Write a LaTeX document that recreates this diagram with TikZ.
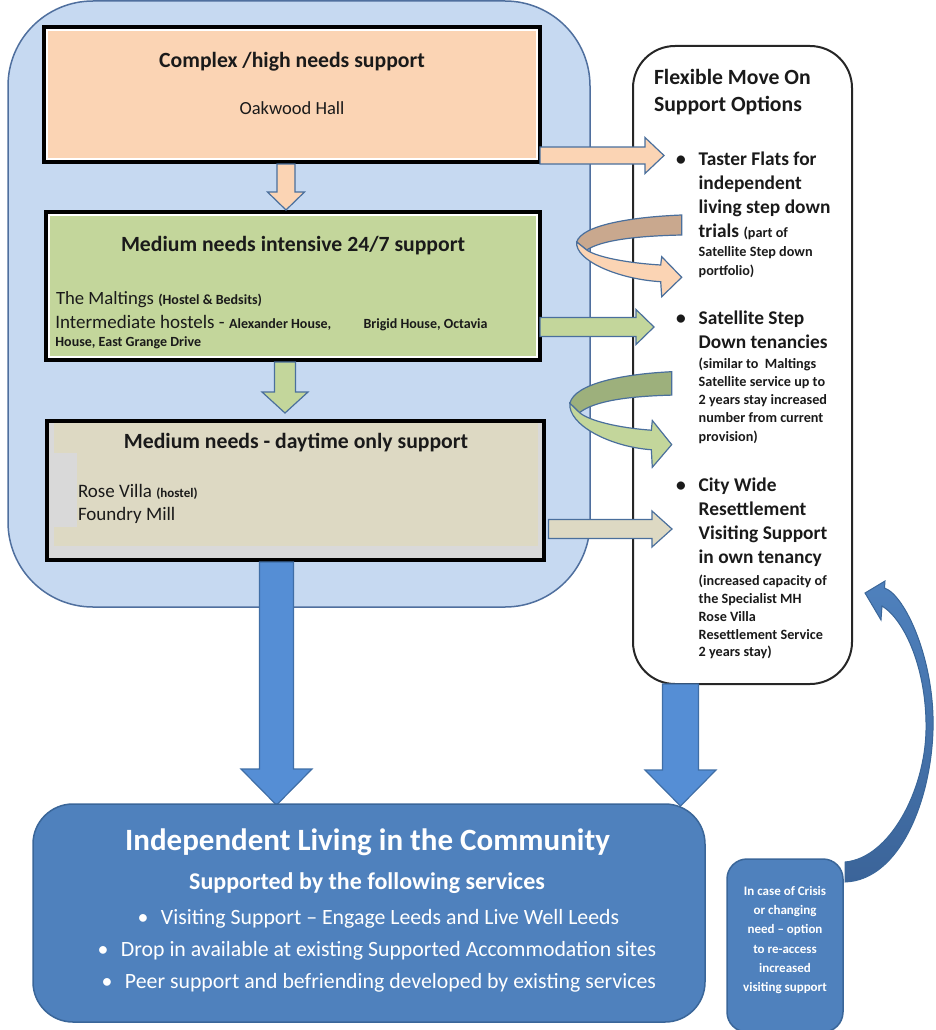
\documentclass[tikz,border=0pt]{standalone}
\usepackage{fontspec}
\setmainfont{Carlito}
\usetikzlibrary{calc}

\definecolor{ink}{HTML}{1A1A1A}
\definecolor{wrapfill}{HTML}{C6D9F1}
\definecolor{wrapedge}{HTML}{4F6F9E}
\definecolor{peach}{HTML}{FBD4B4}
\definecolor{peachback}{HTML}{C9A88E}
\definecolor{sage}{HTML}{C3D69B}
\definecolor{sageback}{HTML}{9DB07C}
\definecolor{sand}{HTML}{DDD9C3}
\definecolor{haze}{HTML}{D9D9D9}
\definecolor{steel}{HTML}{4A6F9C}
\definecolor{flow}{HTML}{558ED5}
\definecolor{flowedge}{HTML}{3F6EA6}
\definecolor{navy}{HTML}{4F81BD}
\definecolor{navyedge}{HTML}{3A6699}
\definecolor{navydark}{HTML}{3B6499}

\newcommand\setfs[2]{\fontsize{#1}{#2}\selectfont}
\newcommand\optbul{\makebox[22.7pt][l]{•}}
\newcommand\combul{\makebox[23.5pt][l]{•}}

% vertical block arrow: style, from, tip, shaft half, head half, head length, start offset
\newcommand\vblock[7]{%
  \filldraw[#1] let \p1=(#2), \p2=(#3) in
    (\x2-#4,\y1-#7) -- (\x2+#4,\y1-#7) -- (\x2+#4,\y2+#6) -- (\x2+#5,\y2+#6)
    -- (\x2,\y2) -- (\x2-#5,\y2+#6) -- (\x2-#4,\y2+#6) -- cycle;}
% horizontal block arrow: style, from, tip, shaft half, head half, head length, start offset
\newcommand\hblock[7]{%
  \filldraw[#1] let \p1=(#2), \p2=(#3) in
    (\x1+#7,\y2+#4) -- (\x2-#6,\y2+#4) -- (\x2-#6,\y2+#5) -- (\x2,\y2)
    -- (\x2-#6,\y2-#5) -- (\x2-#6,\y2-#4) -- (\x1+#7,\y2-#4) -- cycle;}
% U-turn ribbon arrow, drawn from its upper right end
\newcommand\ribbon[2]{%
  \filldraw[fill=#2, draw=steel, line width=1.2pt]
    (0,0) .. controls (-50,2) and (-100,10) .. (-105,27)
    -- (-95,35) .. controls (-80,25) and (-45,21) .. (0,20) -- cycle;
  \filldraw[fill=#1, draw=steel, line width=1.2pt]
    (-105,27) .. controls (-107,45) and (-65,64) .. (-21,66.7)
    -- (-20,81.7) -- (0,62.3) -- (-20,41.7) -- (-21,50)
    .. controls (-55,48) and (-85,42) .. (-95,35) -- cycle;}

\begin{document}
\begin{tikzpicture}[x=1pt,y=-1pt,
  panel/.style={rectangle, inner sep=0pt, outer sep=0pt},
  stage/.style={panel, draw=black, line width=4pt},
  lbl/.style={inner sep=0pt, outer sep=0pt, text=ink, anchor=base west},
  wlbl/.style={inner sep=0pt, outer sep=0pt, text=white, anchor=base},
  peacharrow/.style={fill=peach, draw=steel, line width=1.2pt},
  sagearrow/.style={fill=sage, draw=steel, line width=1.2pt},
  sandarrow/.style={fill=sand, draw=steel, line width=1.2pt},
  flowarrow/.style={fill=flow, draw=flowedge, line width=1.2pt},
  headfont/.style={font=\bfseries\setfs{21.7}{26}},
  optfont/.style={font=\bfseries\setfs{19.4}{24}},
  notefont/.style={font=\bfseries\setfs{14.2}{18}}]

\useasboundingbox (0,0) rectangle (936,1030);

% accommodation pathway container
\node[panel, fill=wrapfill, draw=wrapedge, line width=1.5pt, rounded corners=85pt,
      minimum width=582pt, minimum height=606pt] (wrap) at (299,304) {};

% move-on options panel
\node[panel, fill=white, draw=black!85, line width=2pt, rounded corners=42pt,
      minimum width=219pt, minimum height=638pt] (opts) at (742.5,365) {};

% the three support stages
\node[stage, fill=peach, minimum width=496pt, minimum height=135pt] (high) at (292,94.5) {};
\draw[white, line width=2pt] ([xshift=3pt,yshift=-3pt]high.north west) rectangle ([xshift=-3pt,yshift=3pt]high.south east);
\node[stage, fill=sage, minimum width=494.5pt, minimum height=148pt] (mid) at (292.75,286) {};
\draw[white, line width=2pt] ([xshift=3pt,yshift=-3pt]mid.north west) rectangle ([xshift=-3pt,yshift=3pt]mid.south east);
\node[stage, fill=haze, minimum width=496.5pt, minimum height=139pt] (low) at (295.25,490.5) {};
\fill[sand] (54,423) rectangle (538,546);
\fill[haze] (54,453) rectangle (77,527);

% arrow end points
\coordinate (tipOD) at (286,210);
\coordinate (tipGD) at (285,413);
\coordinate (tipBL) at (276.5,805);
\coordinate (tipBR) at (680.5,806);
\coordinate (tipOR) at (664,155.5);
\coordinate (tipGR) at (654,327);
\coordinate (tipSR) at (672,529);

% downward flow between stages
\vblock{peacharrow}{tipOD |- high.south}{tipOD}{9pt}{18.5pt}{18pt}{2pt}
\vblock{sagearrow}{tipGD |- mid.south}{tipGD}{10.5pt}{23pt}{21pt}{2pt}

% move-on arrows
\hblock{peacharrow}{high.east |- tipOR}{tipOR}{8.5pt}{18pt}{19pt}{0pt}
\hblock{sagearrow}{mid.east |- tipGR}{tipGR}{9.5pt}{17.5pt}{18pt}{0pt}
\hblock{sandarrow}{low.east |- tipSR}{tipSR}{9.5pt}{18pt}{20pt}{5pt}

% step-down loops
\begin{scope}[shift={(681.7,215)}]
  \ribbon{peach}{peachback}
\end{scope}
\begin{scope}[shift={(671.7,371.7)}, xscale=0.97, yscale=1.17]
  \ribbon{sage}{sageback}
\end{scope}

% into the community
\vblock{flowarrow}{tipBL |- low.south}{tipBL}{17pt}{35.5pt}{36pt}{2pt}
\vblock{flowarrow}{tipBR |- opts.south}{tipBR}{18pt}{35.5pt}{36pt}{0pt}

\node[panel, fill=navy, draw=navyedge, line width=1.5pt, rounded corners=40pt,
      minimum width=672pt, minimum height=218pt] (comm) at (369,913) {};
\node[panel, fill=navy, draw=navyedge, line width=1.5pt, rounded corners=20pt,
      minimum width=116pt, minimum height=173pt] (crisis) at (785,945.5) {};

% re-access loop
\path[draw=navyedge, line width=1pt, top color=navy, bottom color=navydark]
  (845,862) .. controls (890,858) and (925,790) .. (926,730)
  .. controls (927,670) and (905,620) .. (882,606)
  -- (881,620) -- (865,593) -- (885,581) -- (884.5,588)
  .. controls (905,595) and (935,660) .. (933,730)
  .. controls (931,800) and (900,880) .. (845,882) -- cycle;

% stage texts
\node[lbl, anchor=base, headfont] (highT) at (292,67.5) {Complex /high needs support};
\node[lbl, anchor=base, font=\setfs{18.5}{22}] (highS) at (292,115) {Oakwood Hall};

\node[lbl, anchor=base, headfont] (midT) at (293,251.5) {Medium needs intensive 24/7 support};
\node[lbl] (midA) at (56,304) {\setfs{18.7}{22}The Maltings {\bfseries\setfs{14}{17}(Hostel \& Bedsits)}};
\node[lbl] (midB) at (55.4,328.3) {\setfs{19}{22}Intermediate hostels - {\bfseries\setfs{14}{17}Alexander House,}};
\node[lbl] (midC) at (363.5,328.3) {\bfseries\setfs{14}{17}Brigid House, Octavia};
\node[lbl] (midD) at (55.4,346.7) {\bfseries\setfs{14}{17}House, East Grange Drive};

\node[lbl, anchor=base, headfont] (lowT) at (296,448) {Medium needs - daytime only support};
\node[lbl] (lowA) at (78,497) {\setfs{19}{22}Rose Villa {\bfseries\setfs{13}{16}(hostel)}};
\node[lbl] (lowB) at (78,520.5) {\setfs{19}{22}Foundry Mill};

% move-on option texts
\node[lbl, headfont] (optT1) at (654,84.3) {Flexible Move On};
\node[lbl, headfont] (optT2) at (654,111.7) {Support Options};

\node[lbl, optfont] (itemAa) at (676,165) {\optbul Taster Flats for};
\node[lbl, optfont] (itemAb) at (698.7,189.3) {independent};
\node[lbl, optfont] (itemAc) at (698.7,213.3) {living step down};
\node[lbl, optfont] (itemAd) at (698.7,237.3) {trials {\setfs{14.2}{18}(part of}};
\node[lbl, notefont] (itemAe) at (698.7,256.7) {Satellite Step down};
\node[lbl, notefont] (itemAf) at (698.7,275) {portfolio)};

\node[lbl, optfont] (itemBa) at (676,324) {\optbul Satellite Step};
\node[lbl, optfont] (itemBb) at (698.7,348.3) {Down tenancies};
\node[lbl, notefont] (itemBc) at (698.7,368.3) {(similar to~ Maltings};
\node[lbl, notefont] (itemBd) at (698.7,386) {Satellite service up to};
\node[lbl, notefont] (itemBe) at (698.7,404) {2 years stay increased};
\node[lbl, notefont] (itemBf) at (698.7,422.7) {number from current};
\node[lbl, notefont] (itemBg) at (698.7,441) {provision)};

\node[lbl, optfont] (itemCa) at (676,491) {\optbul City Wide};
\node[lbl, optfont] (itemCb) at (698.7,515) {Resettlement};
\node[lbl, optfont] (itemCc) at (698.7,539.3) {Visiting Support};
\node[lbl, optfont] (itemCd) at (698.7,563.3) {in own tenancy};
\node[lbl, notefont] (itemCe) at (698.7,585.7) {(increased capacity of};
\node[lbl, notefont] (itemCf) at (698.7,603.3) {the Specialist MH};
\node[lbl, notefont] (itemCg) at (698.7,621) {Rose Villa};
\node[lbl, notefont] (itemCh) at (698.7,639) {Resettlement Service};
\node[lbl, notefont] (itemCi) at (698.7,656.7) {2 years stay)};

% community texts
\node[wlbl, font=\bfseries\setfs{31}{36}] (commT) at (367.5,850) {Independent Living in the Community};
\node[wlbl, font=\bfseries\setfs{24}{28}] (commS) at (367,889.3) {Supported by the following services};
\node[wlbl, anchor=base west, font=\setfs{21.8}{26}] (commA) at (137.5,924) {\combul Visiting Support – Engage Leeds and Live Well Leeds};
\node[wlbl, anchor=base west, font=\setfs{21.8}{26}] (commB) at (97.5,956.7) {\combul Drop in available at existing Supported Accommodation sites};
\node[wlbl, anchor=base west, font=\setfs{21.8}{26}] (commC) at (101.5,988.3) {\combul Peer support and befriending developed by existing services};

% crisis note
\node[wlbl, anchor=center, align=center, font=\bfseries\setfs{13}{19.3}] (crisisT) at (785,940)
  {In case of Crisis\\or changing\\need – option\\to re-access\\increased\\visiting support};

\end{tikzpicture}
\end{document}
